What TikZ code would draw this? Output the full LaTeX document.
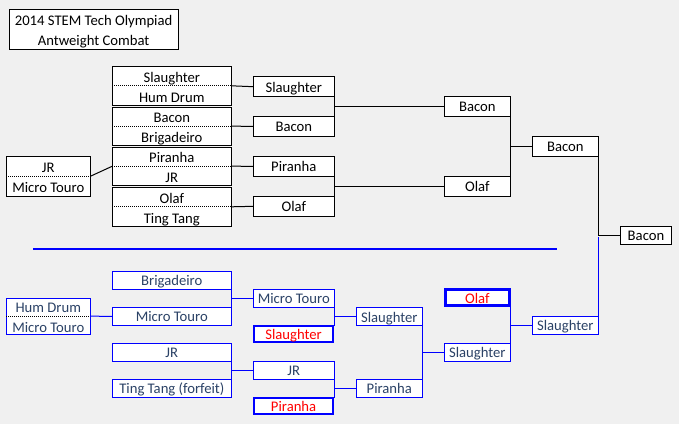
\documentclass[tikz,border=0pt]{standalone}
\usepackage{fontspec}
\setmainfont{Carlito}
\usetikzlibrary{calc}
\definecolor{bg}{HTML}{F0F0F0}
\definecolor{bt}{HTML}{2B4266}
\definecolor{bl}{HTML}{0000FF}
\definecolor{rd}{HTML}{FF0000}
\tikzset{
  every node/.style={font=\fontsize{14.67}{17}\selectfont, inner sep=0pt, outer sep=0pt, text height=11.2pt, text depth=0pt},
  blk/.style={draw=black, line width=1pt, fill=white, text=black},
  blu/.style={draw=bl, line width=1pt, fill=white, text=bt},
  win/.style={draw=bl, line width=2.7pt, fill=white, text=rd},
  cb/.style={draw=black, line width=1pt},
  cu/.style={draw=bl, line width=1pt},
  sep/.style={draw=bl, line width=2pt},
  dots/.style={draw=black, line width=1pt, dash pattern=on 1pt off 1pt},
}
% \pairbox{name}{x}{y}{w}{h}{style}{textstyle}{top}{bottom}
\newcommand\pairbox[9]{%
  \node[#6, minimum width=#4pt, minimum height=#5pt] (#1) at (#2,#3) {};
  \draw[dots] (#1.west) -- (#1.east);
  \node[text=#7] (#1a) at ($(#1.center)+(0,-9.4)$) {#8};
  \node[text=#7] (#1b) at ($(#1.center)+(0,10.6)$) {#9};
}
\begin{document}
\begin{tikzpicture}[x=1pt,y=-1pt]
\fill[bg] (0,0) rectangle (679,424);
\useasboundingbox (0,0) rectangle (679,424);

% title
\node[blk, minimum width=169pt, minimum height=40pt] (title) at (93.6,29.3) {};
\node (title1) at ($(title.center)+(0,-9)$) {2014 STEM Tech Olympiad};
\node (title2) at ($(title.center)+(0,11)$) {Antweight Combat};

% upper bracket, round 1
\pairbox{t1}{171.8}{85.8}{119}{39}{blk}{black}{Slaughter}{Hum Drum}
\pairbox{t2}{171.8}{126.2}{119}{38.4}{blk}{black}{Bacon}{Brigadeiro}
\pairbox{t3}{171.8}{166.2}{119}{38.4}{blk}{black}{Piranha}{JR}
\pairbox{t4}{171.8}{206.8}{119}{39.2}{blk}{black}{Olaf}{Ting Tang}
\pairbox{p1}{48.3}{176.3}{84}{40}{blk}{black}{JR}{Micro Touro}

% round 2
\node[blk, minimum width=81pt, minimum height=20pt] (s1) at (293.8,86.7) {Slaughter};
\node[blk, minimum width=81pt, minimum height=20pt] (s2) at (293.8,126.3) {Bacon};
\node[blk, minimum width=81pt, minimum height=20pt] (s3) at (293.8,166.3) {Piranha};
\node[blk, minimum width=81pt, minimum height=20pt] (s4) at (293.8,206.3) {Olaf};

% round 3, 4, final
\node[blk, minimum width=66pt, minimum height=20pt] (r1) at (477.3,106.3) {Bacon};
\node[blk, minimum width=66pt, minimum height=20pt] (r2) at (477.3,186.3) {Olaf};
\node[blk, minimum width=66pt, minimum height=20pt] (q1) at (565.3,146.3) {Bacon};
\node[blk, minimum width=51.4pt, minimum height=17.7pt] (f) at (646,235.2) {Bacon};

% upper connectors
\draw[cb] (p1.east) -- (t3.west);
\draw[cb] (t1.east) -- (s1.west);
\draw[cb] (t2.east) -- (s2.west);
\draw[cb] (t3.east) -- (s3.west);
\draw[cb] (t4.east) -- (s4.west);
\draw[cb] (s1.south east) -- (s2.north east);
\draw[cb] (r1.west) -- (r1.west -| s1.east);
\draw[cb] (s3.south east) -- (s4.north east);
\draw[cb] (r2.west) -- (r2.west -| s3.east);
\draw[cb] (r1.south east) -- (r2.north east);
\draw[cb] (q1.west) -- (q1.west -| r1.east);
\draw[cb] (q1.south east) |- (f.west);

% separator
\coordinate (sepA) at (33,248.7);
\coordinate (sepB) at (556.7,248.7);
\draw[sep] (sepA) -- (sepB);

% lower bracket
\pairbox{lp}{48.3}{316.2}{84}{35.7}{blu}{bt}{Hum Drum}{Micro Touro}
\node[blu, minimum width=119pt, minimum height=18pt] (a1) at (171.8,280.3) {Brigadeiro};
\node[blu, minimum width=119pt, minimum height=18pt] (a2) at (171.8,316.3) {Micro Touro};
\node[blu, minimum width=119pt, minimum height=18pt] (a3) at (171.8,352.3) {JR};
\node[blu, minimum width=119pt, minimum height=18pt] (a4) at (171.8,388.3) {Ting Tang (forfeit)};

\node[blu, minimum width=81pt, minimum height=18pt] (b1) at (293.8,298.3) {Micro Touro};
\node[win, minimum width=79pt, minimum height=16pt] (b2) at (293.6,334) {Slaughter};
\node[blu, minimum width=81pt, minimum height=18pt] (b3) at (293.8,370.3) {JR};
\node[win, minimum width=79pt, minimum height=16pt] (b4) at (293.6,406) {Piranha};

\node[blu, minimum width=66pt, minimum height=18.4pt] (c1) at (389.3,316.5) {Slaughter};
\node[blu, minimum width=66pt, minimum height=18pt] (c2) at (389.3,388.3) {Piranha};
\node[win, minimum width=64pt, minimum height=16pt] (d1) at (477.3,297.8) {Olaf};
\node[blu, minimum width=66pt, minimum height=18pt] (d2) at (477.3,352.3) {Slaughter};
\node[blu, minimum width=66pt, minimum height=18pt] (e1) at (565.3,325.3) {Slaughter};

% lower connectors
\draw[cu] (lp.east) -- (a2.west);
\draw[cu] (a1.south east) -- (a2.north east);
\draw[cu] (b1.west) -- (b1.west -| a1.east);
\draw[cu] (a3.south east) -- (a4.north east);
\draw[cu] (b3.west) -- (b3.west -| a3.east);
\draw[cu] (b1.south east) -- (b2.north east -| b1.east);
\draw[cu] (c1.west) -- (c1.west -| b1.east);
\draw[cu] (b3.south east) -- (b4.north east -| b3.east);
\draw[cu] (c2.west) -- (c2.west -| b3.east);
\draw[cu] (c1.south east) -- (c2.north east);
\draw[cu] (d2.west) -- (d2.west -| c1.east);
\draw[cu] (d1.south east -| d2.east) -- (d2.north east);
\draw[cu] (e1.west) -- (e1.west -| d2.east);
\coordinate (fj) at ($(q1.east |- f.west)+(0,2)$);
\draw[cu] (e1.north east) -- (fj);
\end{tikzpicture}
\end{document}
